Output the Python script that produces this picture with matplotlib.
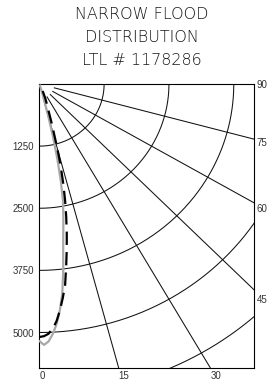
import numpy as np
import matplotlib
matplotlib.use("Agg")
import matplotlib.pyplot as plt

# ---- data ----
title_lines = ["NARROW FLOOD", "DISTRIBUTION", "LTL # 1178286"]
intensity_ticks = [1250, 2500, 3750, 5000]
arc_radii = [1250, 2500, 3750, 5000, 6250]
ray_angles = [15, 30, 45, 60, 75]
bottom_labels = [0, 15, 30]
right_labels = [90, 75, 60, 45]

black_angles = [0, 1, 2, 3, 4, 5, 6, 7, 8, 9, 10, 11, 12, 13, 14, 15, 16, 17, 18, 20, 22, 25, 30, 40]
black_cd = [5090, 5075, 5030, 4930, 4780, 4570, 4330, 4080, 3720, 3380, 3050, 2720, 2390,
            2050, 1700, 1350, 1000, 780, 600, 420, 300, 150, 50, 0]

gray_angles = [0, 1, 2, 3, 4, 5, 6, 7, 8, 9, 10, 11, 12, 13, 14, 15, 16, 18, 20, 25, 40]
gray_cd = [5170, 5250, 5180, 5030, 4830, 4560, 4240, 3790, 3310, 2960, 2670, 2390, 2000,
           1550, 1100, 650, 350, 150, 50, 10, 0]

XMAX, YMAX = 4140, 5720
RAY_START = 300

W, H = 267, 385
fig = plt.figure(figsize=(W / 100, H / 100), dpi=100)
ax_l, ax_r, ax_t, ax_b = 39.3, 254.0, 84.0, 368.3
ax = fig.add_axes([ax_l / W, 1 - ax_b / H, (ax_r - ax_l) / W, (ax_b - ax_t) / H])
ax.set_xlim(0, XMAX)
ax.set_ylim(YMAX, 0)

# pixel aspect (x px per unit / y px per unit)
k = ((ax_r - ax_l) / XMAX) / ((ax_b - ax_t) / YMAX)

gc = "#111111"
t = np.radians(np.linspace(0, 90, 300))
for r in arc_radii:
    ax.plot(r * np.sin(t), r * np.cos(t), color=gc, lw=0.75, clip_on=True)
for a in ray_angles:
    ar = np.radians(a)
    ax.plot([RAY_START * np.sin(ar), 20000 * np.sin(ar)],
            [RAY_START * np.cos(ar), 20000 * np.cos(ar)], color=gc, lw=0.75)

def polar_xy(angles, cd):
    th = np.radians(np.array(angles, float))
    r = np.array(cd, float)
    return r * np.sin(th), r * np.cos(th)

gx, gy = polar_xy(gray_angles, gray_cd)
ax.plot(gx, gy, color="#a8a8a8", lw=1.6, solid_capstyle="round", zorder=3)
bx, by = polar_xy(black_angles, black_cd)
ax.plot(bx, by, color="black", lw=1.6, linestyle=(0, (6.0, 3.2)), zorder=4)

for s in ax.spines.values():
    s.set_linewidth(0.8)
    s.set_color("black")

tick_font = dict(family="Liberation Sans", size=7, color="#333333")
ax.set_yticks(intensity_ticks)
ax.set_yticklabels([str(v) for v in intensity_ticks], **tick_font)
ax.tick_params(axis="y", length=0, pad=3.6)
ax.set_xticks([])

for a in bottom_labels:
    x = YMAX * np.tan(np.radians(a))
    ax.text(x, YMAX + 160, str(a), ha="left", va="center", **tick_font)
for a in right_labels:
    y = 0 if a == 90 else XMAX * k / np.tan(np.radians(a))
    ax.text(1.0 + 2.7 / (ax_r - ax_l), y + 20, str(a), transform=ax.get_yaxis_transform(),
            ha="left", va="center", clip_on=False, **tick_font)

baselines = [19.3, 41.7, 65.0]
for line, b in zip(title_lines, baselines):
    fig.text(142 / W, 1 - b / H, line, ha="center", va="baseline",
             family="DejaVu Sans", weight="light", size=11.5, color="#1a1a1a")

fig.savefig("out.png", dpi=100)
